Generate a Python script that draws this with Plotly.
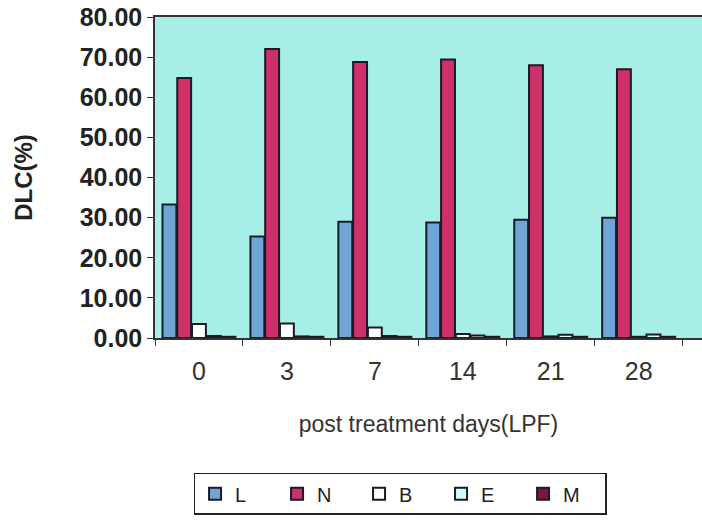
import plotly.graph_objects as go

# Post-treatment sampling days (category axis)
days = ["0", "3", "7", "14", "21", "28"]

# Differential leukocyte count (%) per cell type
lymphocytes = [33.3, 25.3, 29.0, 28.8, 29.5, 30.0]
neutrophils = [64.8, 72.0, 68.8, 69.4, 68.0, 67.0]
basophils = [3.5, 3.6, 2.6, 1.0, 0.4, 0.3]
eosinophils = [0.5, 0.4, 0.5, 0.6, 0.8, 0.9]
monocytes = [0.3, 0.3, 0.3, 0.3, 0.3, 0.3]

series = [
    ("L", lymphocytes, "#6FA6D6"),
    ("N", neutrophils, "#D0306A"),
    ("B", basophils, "#FFFFFF"),
    ("E", eosinophils, "#CCFFFB"),
    ("M", monocytes, "#7E1442"),
]

fig = go.Figure()
for name, vals, color in series:
    fig.add_trace(go.Bar(
        x=days, y=vals, name=name,
        marker=dict(color=color, line=dict(color="#1a1a2a", width=2)),
    ))

fig.update_layout(
    width=702, height=521,
    margin=dict(l=155, r=0, t=17, b=183, autoexpand=False),
    paper_bgcolor="white",
    plot_bgcolor="#A6EEE6",
    barmode="group",
    bargap=0.16,
    bargroupgap=0.06,
    font=dict(family="Liberation Sans, Arial, sans-serif", color="#222"),
    xaxis=dict(
        type="category",
        range=[-0.5, 5.72],
        showline=True, linecolor="#333", linewidth=1.5, mirror=True,
        ticks="outside", ticklen=6, tickcolor="#333",
        tickson="boundaries",
        tickfont=dict(size=25, color="#333"),
        ticklabelstandoff=10,
        showgrid=False,
        title=dict(text="post treatment days(LPF)",
                   font=dict(size=23, color="#333"), standoff=32),
    ),
    yaxis=dict(
        range=[0, 80], dtick=10, tickformat=".2f",
        showline=True, linecolor="#333", linewidth=1.5,
        ticks="outside", ticklen=6, tickcolor="#333",
        tickfont=dict(size=25, color="#222", weight="bold"),
        showgrid=False, zeroline=False,
        title=dict(text="DLC(%)", font=dict(size=24, color="#222", weight="bold"),
                   standoff=40),
    ),
    legend=dict(
        orientation="h",
        x=0.448, xanchor="center",
        y=-0.42, yanchor="top",
        bordercolor="#222", borderwidth=1.5,
        font=dict(size=20, color="#222"),
        entrywidth=37,
        itemsizing="constant",
    ),
)

fig.write_html("out.html")
